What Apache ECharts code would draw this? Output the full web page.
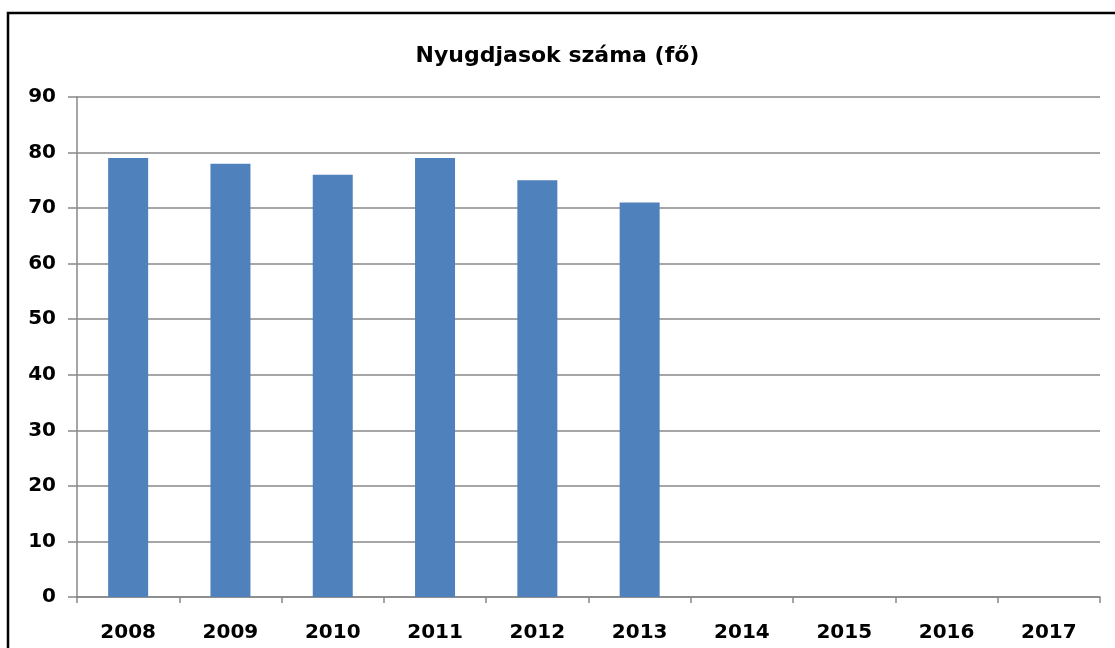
<!DOCTYPE html>
<html>
<head>
<meta charset="utf-8">
<script src="https://cdn.jsdelivr.net/npm/echarts@6/dist/echarts.min.js"></script>
<style>
  html, body { margin: 0; padding: 0; background: #fff; }
  #chart { width: 1115px; height: 648px; }
</style>
</head>
<body>
<div id="chart"></div>
<script>
  // adatok
  const years = ['2008', '2009', '2010', '2011', '2012', '2013', '2014', '2015', '2016', '2017']
  const pensioners = [79, 78, 76, 79, 75, 71, null, null, null, null]
  const titleText = 'Nyugdjasok száma (fő)'

  const chart = echarts.init(document.getElementById('chart'))
  const labelFont = {
    fontFamily: 'DejaVu Sans',
    fontWeight: 'bold',
    fontSize: 20,
    color: '#000'
  }

  const option = {
    animation: false,
    title: {
      text: titleText,
      left: 'center',
      top: 40,
      textStyle: { fontFamily: 'DejaVu Sans', fontWeight: 'bold', fontSize: 22, color: '#000' }
    },
    // keret
    graphic: [{
      type: 'polyline',
      shape: { points: [[8, 700], [8, 13], [1120, 13]] },
      style: { stroke: '#000', lineWidth: 2.5, fill: null }
    }],
    grid: { left: 77, right: 15, top: 97, bottom: 51 },
    xAxis: {
      type: 'category',
      data: years,
      axisLine: { lineStyle: { color: '#888', width: 1.5 } },
      axisTick: { show: true, length: 6, alignWithLabel: false, lineStyle: { color: '#888', width: 1.5 } },
      axisLabel: Object.assign({ margin: 26 }, labelFont)
    },
    yAxis: {
      type: 'value',
      min: 0,
      max: 90,
      interval: 10,
      axisLine: { show: true, lineStyle: { color: '#888', width: 1.5 } },
      axisTick: { show: true, length: 9, lineStyle: { color: '#888', width: 1.5 } },
      splitLine: { lineStyle: { color: '#888', width: 1.5 } },
      axisLabel: Object.assign({ margin: 21 }, labelFont)
    },
    series: [{
      type: 'bar',
      data: pensioners,
      barWidth: 40,
      itemStyle: { color: '#4f81bd' }
    }]
  }
  chart.setOption(option)
</script>
</body>
</html>
